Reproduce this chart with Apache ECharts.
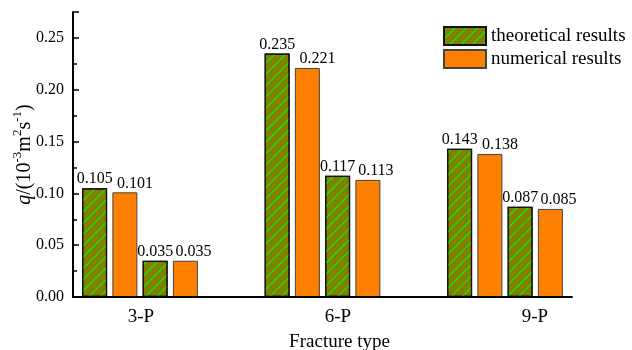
<!DOCTYPE html>
<html>
<head>
<meta charset="utf-8">
<script src="https://cdn.jsdelivr.net/npm/echarts@6/dist/echarts.min.js"></script>
<style>
  html, body { margin: 0; padding: 0; background: #fff; }
  #chart { width: 632px; height: 350px; }
</style>
</head>
<body>
<div id="chart"></div>
<script>
// Fracture types along the horizontal axis
const categories = ['3-P', '6-P', '9-P'];
// Two fracture sets per type, each with a theoretical and a numerical flow rate
const theoreticalA = [0.105, 0.235, 0.143];
const numericalA   = [0.101, 0.221, 0.138];
const theoreticalB = [0.035, 0.117, 0.087];
const numericalB   = [0.035, 0.113, 0.085];
// Vertical axis ticks
const yTicks = [0, 0.05, 0.10, 0.15, 0.20, 0.25];
const yMax = 0.275;

const FONT = '"Liberation Serif", "Times New Roman", serif';
const chart = echarts.init(document.getElementById('chart'), null, { renderer: 'canvas' });

const hatch = {
  symbol: 'rect',
  symbolSize: 1,
  color: '#00ff00',
  dashArrayX: [[1, 0]],
  dashArrayY: [0.8, 7],
  rotation: -Math.PI / 4
};

const theoStyle = { color: '#808000', borderColor: '#111', borderWidth: 1.2, decal: hatch };
const numStyle  = { color: '#ff8000', borderColor: '#444', borderWidth: 1 };

function valueLabel(dx) {
  return {
    show: true,
    position: 'top',
    distance: 1,
    offset: [dx, 0],
    color: '#000',
    fontFamily: FONT,
    fontSize: 16,
    formatter: p => p.value.toFixed(3)
  };
}

function barSeries(name, data, style, dx) {
  return {
    type: 'bar',
    name: name,
    xAxisIndex: 1,
    yAxisIndex: 1,
    data: data,
    barWidth: 25,
    barGap: '21%',
    itemStyle: style,
    label: valueLabel(dx),
    emphasis: { disabled: true }
  };
}

// Positions of the type labels along the frame's horizontal axis
const labelAxisMin = 0.655, labelAxisMax = 3.188;

chart.setOption({
  animation: false,
  backgroundColor: '#fff',
  legend: {
    orient: 'vertical',
    left: 438,
    top: 21,
    icon: 'rect',
    itemWidth: 42,
    itemHeight: 18,
    itemGap: 3,
    textStyle: { fontFamily: FONT, fontSize: 19, color: '#000' },
    data: ['theoretical results', 'numerical results']
  },
  grid: [
    // frame with the visible axes
    { left: 73, right: 60, top: 12, bottom: 53, outerBoundsMode: 'none', containLabel: false },
    // band layout for the bar groups
    { left: 48.75, width: 547.5, top: 12, bottom: 53, outerBoundsMode: 'none', containLabel: false }
  ],
  xAxis: [
    {
      type: 'value',
      gridIndex: 0,
      min: labelAxisMin,
      max: labelAxisMax,
      z: 10,
      axisLine: { show: true, onZero: false, lineStyle: { color: '#000', width: 2 } },
      axisTick: { show: false },
      splitLine: { show: false },
      axisLabel: {
        customValues: [1, 2, 3],
        formatter: v => categories[Math.round(v) - 1] || '',
        fontFamily: FONT, fontSize: 19, color: '#000', margin: 11
      },
      name: 'Fracture type',
      nameLocation: 'middle',
      nameGap: 36,
      nameMoveOverlap: false,
      nameTextStyle: { fontFamily: FONT, fontSize: 19, color: '#000', padding: [0, 0, 0, 34] }
    },
    {
      type: 'category',
      gridIndex: 1,
      data: categories,
      show: false
    }
  ],
  yAxis: [
    {
      type: 'value',
      gridIndex: 0,
      min: 0,
      max: yMax,
      interval: 0.05,
      z: 10,
      axisLine: { show: true, lineStyle: { color: '#000', width: 2 } },
      axisTick: { show: true, inside: true, length: 6, lineStyle: { color: '#000', width: 1.5 } },
      minorTick: { show: true, splitNumber: 2, length: 4, lineStyle: { color: '#000', width: 1.5 } },
      splitLine: { show: false },
      axisLabel: {
        showMaxLabel: false,
        formatter: v => (yTicks.some(t => Math.abs(t - v) < 1e-9) ? v.toFixed(2) : ''),
        fontFamily: FONT, fontSize: 16, color: '#000', margin: 9
      },
      name: '{i|q}{n|/(10}{s|-3}{n|m}{s|2}{n|s}{s|-1}{n|)}',
      nameLocation: 'middle',
      nameRotate: 90,
      nameGap: 38,
      nameMoveOverlap: false,
      nameTextStyle: {
        rich: {
          i: { fontFamily: FONT, fontSize: 20, fontStyle: 'italic', color: '#000', verticalAlign: 'bottom', lineHeight: 24 },
          n: { fontFamily: FONT, fontSize: 20, color: '#000', verticalAlign: 'bottom', lineHeight: 24 },
          s: { fontFamily: FONT, fontSize: 13, color: '#000', verticalAlign: 'top', lineHeight: 24 }
        }
      }
    },
    {
      type: 'value',
      gridIndex: 1,
      min: 0,
      max: yMax,
      show: false,
      splitLine: { show: false }
    }
  ],
  series: [
    barSeries('theoretical results', theoreticalA, theoStyle, 0),
    barSeries('numerical results', numericalA, numStyle, 10),
    barSeries('theoretical results', theoreticalB, theoStyle, 0),
    barSeries('numerical results', numericalB, numStyle, 8)
  ]
});
</script>
</body>
</html>
